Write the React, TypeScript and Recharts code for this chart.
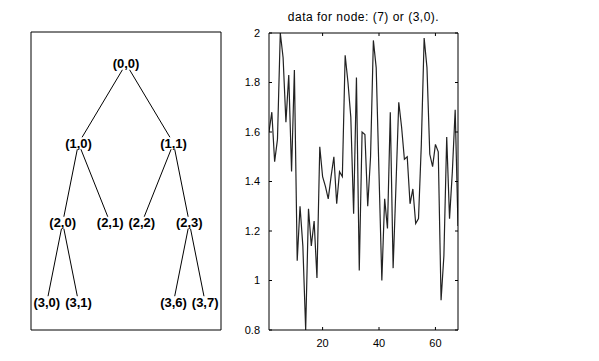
import React from 'react';
import { LineChart, Line, XAxis, YAxis, ScatterChart, Scatter, ReferenceArea, Label } from 'recharts';

// ---- Tree (wavelet packet decomposition) ----
const nodeLabels = ['(0,0)', '(1,0)', '(1,1)', '(2,0)', '(2,1)', '(2,2)', '(2,3)', '(3,0)', '(3,1)', '(3,6)', '(3,7)'];
const nodeX = [6, 3, 9, 2, 5, 7, 10, 1, 3, 9, 11];
const nodeLevel = [0, 1, 1, 2, 2, 2, 2, 3, 3, 3, 3];
const edges: [number, number][] = [
  [0, 1], [0, 2], [1, 3], [1, 4], [2, 5], [2, 6], [3, 7], [3, 8], [6, 9], [6, 10],
];
const treeXDomain: [number, number] = [0, 12];
const treeYDomain: [number, number] = [-0.4, 3.35];

// ---- Signal of node (3,0) ----
const signal = [
  1.60, 1.68, 1.48, 1.57, 2.00, 1.90, 1.64, 1.83, 1.44, 1.85,
  1.08, 1.30, 1.14, 0.80, 1.29, 1.14, 1.24, 1.01, 1.54, 1.42,
  1.38, 1.33, 1.42, 1.50, 1.31, 1.44, 1.42, 1.91, 1.80, 1.66,
  1.27, 1.82, 1.04, 1.60, 1.59, 1.30, 1.50, 1.97, 1.86, 1.43,
  1.00, 1.33, 1.21, 1.68, 1.05, 1.38, 1.72, 1.62, 1.49, 1.50,
  1.31, 1.37, 1.23, 1.25, 1.55, 1.98, 1.86, 1.51, 1.46, 1.55,
  1.52, 0.92, 1.10, 1.58, 1.25, 1.44, 1.69, 1.22,
];
const xTicks = [20, 40, 60];
const yTicks = [0.8, 1, 1.2, 1.4, 1.6, 1.8, 2];
const xDomain: [number, number] = [1, 68];
const yDomain: [number, number] = [0.8, 2];
const title = 'data for node: (7) or (3,0).';

const FONT = '"Liberation Sans", Arial, Helvetica, sans-serif';

const nodes = nodeLabels.map((label, i) => ({ x: nodeX[i], y: nodeLevel[i], label }));
const edgeData = edges.map(([a, b]) => [
  { x: nodeX[a], y: nodeLevel[a] },
  { x: nodeX[b], y: nodeLevel[b] },
]);
const lineData = signal.map((v, i) => ({ x: i + 1, v }));

const Empty = () => <g />;

const NodeShape = (props: any) => {
  const { cx, cy, payload } = props;
  return (
    <g>
      <rect x={cx - 14} y={cy - 6} width={28} height={12} fill="#fff" />
      <text
        x={cx}
        y={cy + 4.5}
        textAnchor="middle"
        fontFamily={FONT}
        fontSize={13}
        fontWeight="bold"
        fill="#000"
      >
        {payload.label}
      </text>
    </g>
  );
};

export default function App() {
  return (
    <div style={{ position: 'absolute', left: 0, top: 0, width: 599, height: 361, background: '#fff' }}>
      <div style={{ position: 'absolute', left: 0, top: 0 }}>
        <ScatterChart width={599} height={361} margin={{ top: 32, left: 31, right: 378, bottom: 31 }}>
          <XAxis type="number" dataKey="x" domain={treeXDomain} hide allowDataOverflow />
          <YAxis type="number" dataKey="y" domain={treeYDomain} reversed hide allowDataOverflow />
          <ReferenceArea
            x1={treeXDomain[0]}
            x2={treeXDomain[1]}
            y1={treeYDomain[0]}
            y2={treeYDomain[1]}
            fill="none"
            fillOpacity={0}
            stroke="#000"
            strokeWidth={1}
            ifOverflow="visible"
          />
          {edgeData.map((d, i) => (
            <Scatter
              key={i}
              data={d}
              line={{ stroke: '#000', strokeWidth: 1 }}
              shape={Empty}
              isAnimationActive={false}
            />
          ))}
          <Scatter data={nodes} shape={NodeShape} isAnimationActive={false} />
        </ScatterChart>
      </div>
      <div style={{ position: 'absolute', left: 0, top: 0 }}>
        <LineChart width={599} height={361} data={lineData} margin={{ top: 32, right: 140, bottom: 1, left: 229 }}>
          <XAxis
            dataKey="x"
            type="number"
            domain={xDomain}
            ticks={xTicks}
            interval={0}
            allowDataOverflow
            height={30}
            tickSize={-3}
            tickMargin={12}
            stroke="#000"
            tick={{ fontSize: 11, fill: '#000', fontFamily: FONT }}
          />
          <XAxis
            xAxisId="top"
            orientation="top"
            dataKey="x"
            type="number"
            domain={xDomain}
            ticks={xTicks}
            interval={0}
            allowDataOverflow
            height={1}
            tickSize={-3}
            stroke="#000"
            tick={Empty}
          >
            <Label
              value={title}
              position="top"
              offset={11}
              fontSize={12}
              fill="#000"
              fontFamily={FONT}
              letterSpacing={0.5}
            />
          </XAxis>
          <YAxis
            type="number"
            domain={yDomain}
            ticks={yTicks}
            interval={0}
            allowDataOverflow
            width={40}
            tickSize={-3}
            tickMargin={12}
            stroke="#000"
            tick={{ fontSize: 11, fill: '#000', fontFamily: FONT }}
          />
          <YAxis
            yAxisId="right"
            orientation="right"
            type="number"
            domain={yDomain}
            ticks={yTicks}
            interval={0}
            allowDataOverflow
            width={1}
            tickSize={-3}
            stroke="#000"
            tick={Empty}
          />
          <Line
            dataKey="v"
            type="linear"
            stroke="#222"
            strokeWidth={1.2}
            dot={false}
            isAnimationActive={false}
          />
        </LineChart>
      </div>
    </div>
  );
}
